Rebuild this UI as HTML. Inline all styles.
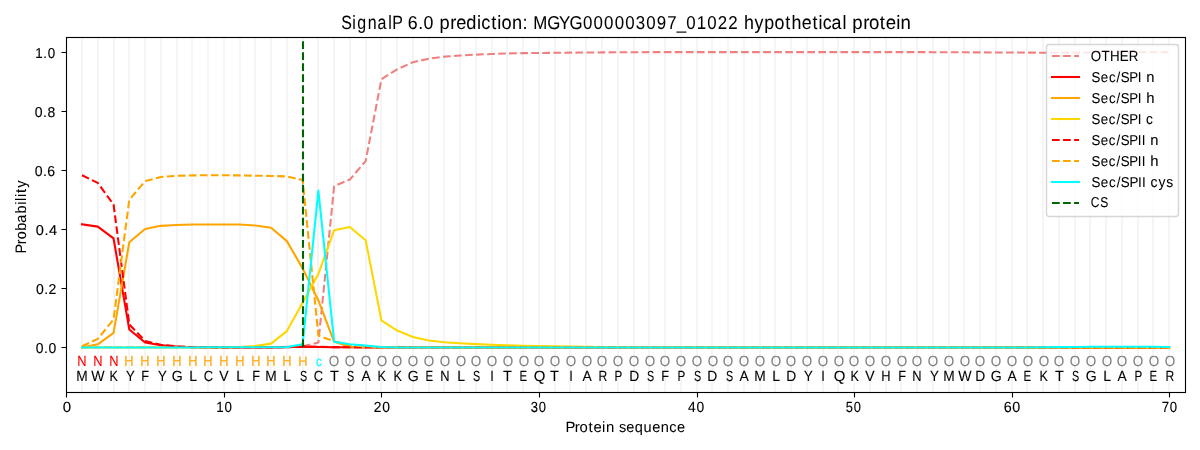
<!DOCTYPE html>
<html><head><meta charset="utf-8"><title>SignalP 6.0 prediction</title>
<style>
html,body{margin:0;padding:0;background:#fff}
body{width:1200px;height:450px;overflow:hidden}
svg{display:block;will-change:transform}
text{font-family:"Liberation Sans",sans-serif;font-kerning:none;text-rendering:geometricPrecision;white-space:pre}
</style></head><body>
<svg width="1200" height="450" viewBox="0 0 1200 450">
<rect x="0" y="0" width="1200" height="450" fill="#fff"/>
<path d="M82 37V392M98 37V392M114 37V392M129 37V392M145 37V392M161 37V392M177 37V392M192 37V392M208 37V392M224 37V392M240 37V392M255 37V392M271 37V392M287 37V392M303 37V392M318 37V392M334 37V392M350 37V392M366 37V392M381 37V392M397 37V392M413 37V392M429 37V392M444 37V392M460 37V392M476 37V392M492 37V392M507 37V392M523 37V392M539 37V392M555 37V392M570 37V392M586 37V392M602 37V392M618 37V392M634 37V392M649 37V392M665 37V392M681 37V392M697 37V392M712 37V392M728 37V392M744 37V392M760 37V392M775 37V392M791 37V392M807 37V392M823 37V392M838 37V392M854 37V392M870 37V392M886 37V392M901 37V392M917 37V392M933 37V392M949 37V392M964 37V392M980 37V392M996 37V392M1012 37V392M1027 37V392M1043 37V392M1059 37V392M1075 37V392M1090 37V392M1106 37V392M1122 37V392M1138 37V392M1153 37V392M1169 37V392" stroke="#f5f5f5" stroke-width="2.083" fill="none"/>
<clipPath id="c"><rect x="66.278" y="37.333" width="1118.722" height="354.389"/></clipPath>
<g clip-path="url(#c)" fill="none" stroke-width="2.083" stroke-linejoin="round">
<polyline points="82.034,347.276 97.791,347.276 113.548,347.276 129.304,347.276 145.061,347.276 160.818,347.276 176.574,347.276 192.331,347.276 208.088,347.276 223.844,347.276 239.601,347.276 255.358,347.276 271.114,347.128 286.871,346.833 302.628,346.242 318.384,342.551 334.141,186.177 349.897,179.502 365.654,161.074 381.411,79.269 397.167,69.317 412.924,62.17 428.681,58.744 444.437,56.648 460.194,55.584 475.951,54.639 491.707,53.99 507.464,53.428 523.221,53.163 538.977,52.986 554.734,52.779 570.491,52.631 586.247,52.513 602.004,52.395 617.761,52.306 633.517,52.218 649.274,52.159 665.031,52.129 680.787,52.1 696.544,52.1 712.3,52.1 728.057,52.1 743.814,52.1 759.57,52.1 775.327,52.1 791.084,52.1 806.84,52.1 822.597,52.1 838.354,52.1 854.11,52.1 869.867,52.1 885.624,52.1 901.38,52.1 917.137,52.1 932.894,52.188 948.65,52.247 964.407,52.306 980.164,52.395 995.92,52.454 1011.677,52.543 1027.433,52.631 1043.19,52.69 1058.947,52.69 1074.703,52.631 1090.46,52.543 1106.217,52.454 1121.973,52.395 1137.73,52.306 1153.487,52.218 1169.243,52.159" stroke="#f08080" stroke-dasharray="7.708 3.333"/>
<polyline points="82.034,224.273 97.791,226.636 113.548,238.449 129.304,329.497 145.061,342.551 160.818,345.209 176.574,346.538 192.331,347.187 208.088,347.335 223.844,347.424 239.601,347.424 255.358,347.424 271.114,347.424 286.871,347.276 302.628,346.833 318.384,346.981 334.141,347.187 349.897,347.276 365.654,347.424 381.411,347.424 397.167,347.424 412.924,347.424 428.681,347.424 444.437,347.424 460.194,347.424 475.951,347.424 491.707,347.424 507.464,347.424 523.221,347.424 538.977,347.424 554.734,347.424 570.491,347.424 586.247,347.424 602.004,347.424 617.761,347.424 633.517,347.424 649.274,347.424 665.031,347.424 680.787,347.424 696.544,347.424 712.3,347.424 728.057,347.424 743.814,347.424 759.57,347.424 775.327,347.424 791.084,347.424 806.84,347.424 822.597,347.424 838.354,347.424 854.11,347.424 869.867,347.424 885.624,347.424 901.38,347.424 917.137,347.424 932.894,347.424 948.65,347.424 964.407,347.424 980.164,347.424 995.92,347.424 1011.677,347.424 1027.433,347.424 1043.19,347.424 1058.947,347.424 1074.703,347.424 1090.46,347.424 1106.217,347.424 1121.973,347.424 1137.73,347.424 1153.487,347.424 1169.243,347.424" stroke="#ff0000" stroke-linecap="square"/>
<polyline points="82.034,347.424 97.791,344.323 113.548,332.835 129.304,242.288 145.061,228.999 160.818,225.839 176.574,224.953 192.331,224.569 208.088,224.421 223.844,224.421 239.601,224.569 255.358,225.455 271.114,227.699 286.871,241.107 302.628,268.395 318.384,300.467 334.141,341.872 349.897,346.833 365.654,347.128 381.411,347.276 397.167,347.424 412.924,347.424 428.681,347.424 444.437,347.424 460.194,347.424 475.951,347.424 491.707,347.424 507.464,347.424 523.221,347.424 538.977,347.424 554.734,347.424 570.491,347.424 586.247,347.424 602.004,347.424 617.761,347.424 633.517,347.424 649.274,347.424 665.031,347.424 680.787,347.424 696.544,347.424 712.3,347.424 728.057,347.424 743.814,347.424 759.57,347.424 775.327,347.424 791.084,347.424 806.84,347.424 822.597,347.424 838.354,347.424 854.11,347.424 869.867,347.424 885.624,347.424 901.38,347.424 917.137,347.424 932.894,347.424 948.65,347.424 964.407,347.424 980.164,347.424 995.92,347.424 1011.677,347.424 1027.433,347.424 1043.19,347.424 1058.947,347.424 1074.703,347.424 1090.46,347.424 1106.217,347.424 1121.973,347.424 1137.73,347.424 1153.487,347.424 1169.243,347.424" stroke="#ffa500" stroke-linecap="square"/>
<polyline points="82.034,347.424 97.791,347.424 113.548,347.424 129.304,347.424 145.061,347.424 160.818,347.424 176.574,347.424 192.331,347.424 208.088,347.424 223.844,347.424 239.601,347.128 255.358,345.947 271.114,343.643 286.871,331.063 302.628,302.83 318.384,273.888 334.141,230.18 349.897,226.931 365.654,240.221 381.411,320.313 397.167,330.59 412.924,336.969 428.681,340.572 444.437,342.226 460.194,343.2 475.951,344.116 491.707,344.825 507.464,345.356 523.221,345.77 538.977,346.095 554.734,346.39 570.491,346.658 586.247,346.856 602.004,347.003 617.761,347.112 633.517,347.193 649.274,347.253 665.031,347.297 680.787,347.33 696.544,347.354 712.3,347.372 728.057,347.385 743.814,347.395 759.57,347.403 775.327,347.408 791.084,347.412 806.84,347.415 822.597,347.417 838.354,347.419 854.11,347.42 869.867,347.421 885.624,347.422 901.38,347.422 917.137,347.423 932.894,347.423 948.65,347.423 964.407,347.423 980.164,347.423 995.92,347.423 1011.677,347.423 1027.433,347.423 1043.19,347.424 1058.947,347.424 1074.703,347.424 1090.46,347.424 1106.217,347.424 1121.973,347.424 1137.73,347.424 1153.487,347.424 1169.243,347.424" stroke="#ffd700" stroke-linecap="square"/>
<polyline points="82.034,175.25 97.791,182.928 113.548,204.487 129.304,324.388 145.061,340.926 160.818,344.766 176.574,346.39 192.331,347.128 208.088,347.305 223.844,347.424 239.601,347.424 255.358,347.424 271.114,347.424 286.871,347.187 302.628,346.331 318.384,346.833 334.141,347.128 349.897,347.187 365.654,347.246 381.411,347.305 397.167,347.365 412.924,347.424 428.681,347.424 444.437,347.424 460.194,347.424 475.951,347.424 491.707,347.424 507.464,347.424 523.221,347.424 538.977,347.424 554.734,347.424 570.491,347.424 586.247,347.424 602.004,347.424 617.761,347.424 633.517,347.424 649.274,347.424 665.031,347.424 680.787,347.424 696.544,347.424 712.3,347.424 728.057,347.424 743.814,347.424 759.57,347.424 775.327,347.424 791.084,347.424 806.84,347.424 822.597,347.424 838.354,347.424 854.11,347.424 869.867,347.424 885.624,347.424 901.38,347.424 917.137,347.424 932.894,347.424 948.65,347.424 964.407,347.424 980.164,347.424 995.92,347.424 1011.677,347.424 1027.433,347.424 1043.19,347.424 1058.947,347.424 1074.703,347.424 1090.46,347.424 1106.217,347.424 1121.973,347.424 1137.73,347.424 1153.487,347.424 1169.243,347.424" stroke="#ff0000" stroke-dasharray="7.708 3.333"/>
<polyline points="82.034,346.242 97.791,338.859 113.548,319.515 129.304,199.762 145.061,181.156 160.818,177.022 176.574,175.84 192.331,175.397 208.088,175.25 223.844,175.25 239.601,175.397 255.358,175.722 271.114,175.958 286.871,176.431 302.628,179.975 318.384,335.611 334.141,341.222 349.897,345.356 365.654,346.242 381.411,347.128 397.167,347.424 412.924,347.424 428.681,347.424 444.437,347.424 460.194,347.424 475.951,347.424 491.707,347.424 507.464,347.424 523.221,347.424 538.977,347.424 554.734,347.424 570.491,347.424 586.247,347.424 602.004,347.424 617.761,347.424 633.517,347.424 649.274,347.424 665.031,347.424 680.787,347.424 696.544,347.424 712.3,347.424 728.057,347.424 743.814,347.424 759.57,347.424 775.327,347.424 791.084,347.424 806.84,347.424 822.597,347.424 838.354,347.424 854.11,347.424 869.867,347.424 885.624,347.424 901.38,347.424 917.137,347.424 932.894,347.424 948.65,347.424 964.407,347.424 980.164,347.424 995.92,347.424 1011.677,347.424 1027.433,347.424 1043.19,347.424 1058.947,347.424 1074.703,347.424 1090.46,347.424 1106.217,347.424 1121.973,347.424 1137.73,347.424 1153.487,347.424 1169.243,347.424" stroke="#ffa500" stroke-dasharray="7.708 3.333"/>
<polyline points="82.034,347.424 97.791,347.424 113.548,347.424 129.304,347.424 145.061,347.424 160.818,347.424 176.574,347.424 192.331,347.424 208.088,347.276 223.844,347.187 239.601,347.187 255.358,347.187 271.114,347.187 286.871,347.128 302.628,344.323 318.384,190.607 334.141,341.665 349.897,344.323 365.654,345.652 381.411,347.01 397.167,347.424 412.924,347.424 428.681,347.424 444.437,347.424 460.194,347.424 475.951,347.424 491.707,347.424 507.464,347.424 523.221,347.424 538.977,347.424 554.734,347.424 570.491,347.424 586.247,347.424 602.004,347.424 617.761,347.424 633.517,347.424 649.274,347.424 665.031,347.424 680.787,347.424 696.544,347.424 712.3,347.424 728.057,347.424 743.814,347.424 759.57,347.424 775.327,347.424 791.084,347.424 806.84,347.424 822.597,347.424 838.354,347.424 854.11,347.424 869.867,347.424 885.624,347.424 901.38,347.424 917.137,347.424 932.894,347.424 948.65,347.424 964.407,347.424 980.164,347.424 995.92,347.424 1011.677,347.424 1027.433,347.424 1043.19,347.276 1058.947,347.128 1074.703,346.981 1090.46,346.833 1106.217,346.685 1121.973,346.685 1137.73,346.685 1153.487,346.833 1169.243,346.981" stroke="#00ffff" stroke-linecap="square"/>
<path d="M303 347V37" stroke="#006400" stroke-dasharray="7.708 3.333"/>
</g>
<path d="M66.5 392.5V397.5M224.5 392.5V397.5M381.5 392.5V397.5M539.5 392.5V397.5M697.5 392.5V397.5M854.5 392.5V397.5M1012.5 392.5V397.5M1169.5 392.5V397.5M66.5 347.5H61.5M66.5 288.5H61.5M66.5 229.5H61.5M66.5 170.5H61.5M66.5 111.5H61.5M66.5 52.5H61.5" stroke="#000" stroke-width="1.111" fill="none"/>
<rect x="66.5" y="37.5" width="1119" height="355" fill="none" stroke="#000" stroke-width="1.111"/>
<g stroke="#000" stroke-width="0.1"><text transform="translate(342.4 29) scale(0.958 1.159)" x="-1.112 10.41 15.396 26.537 36.669 47.781 52.009" font-size="16.667" stroke-width="0.04">SignalP</text><text transform="translate(408.65 29) scale(1.067 1.117)" x="-0.782 8.942 14.036" font-size="16.667" stroke-width="0.04">6.0</text><text transform="translate(440.63 29) scale(1.094 1.159)" x="-1.117 8.85 14.189 23.541 33.326 37.085 46.213 51.801 55.751 65.212 74.855" font-size="16.667" stroke-width="0.04">prediction:</text><text transform="translate(534.772 29) scale(1.013 1.117)" x="-1.484 12.363 23.818 34.224 47.621 58.032 68.444 78.855 89.266 99.698 110.088 120.448 130.879 140.244 149.504 159.835 170.326 180.522 190.933" font-size="16.667" stroke-width="0.04">MGYG000003097_01022</text><text transform="translate(745.153 29) scale(1.072 1.159)" x="-1.131 8.796 17.904 27.45 37.481 43.142 52.818 62.848 68.54 72.426 80.539 90.797" font-size="16.667" stroke-width="0.04">hypothetical</text><text transform="translate(853.589 29) scale(1.118 1.159)" x="-1.194 8.599 13.744 23.46 28.684 38.067 42.067" font-size="16.667" stroke-width="0.04">protein</text>
<text transform="translate(567.4 432) scale(1.073 1.07)" x="-1.806 6.843 11.358 19.712 24.323 32.37 35.938" font-size="13.889" stroke-width="0.03">Protein</text><text transform="translate(619.567 432) scale(1.05 1.07)" x="-0.667 6.347 14.457 22.85 31.117 39.33 47.317 54.769" font-size="13.889" stroke-width="0.03">sequence</text>
<text transform="translate(26 251.6) rotate(-90) scale(1.046 1.093)" x="-1.73 7.081 11.74 20.042 27.691 36.5 44.764 48.422 52.094 56.085 61.064" font-size="13.889" stroke-width="0.05">Probability</text>
<text transform="translate(63.4 412) scale(1.084 1.06)" x="-0.543" font-size="13.889" stroke-width="0.11">0</text>
<text transform="translate(217.4 412) scale(0.962 1.06)" x="-1.13 7.503" font-size="13.889" stroke-width="0.11">10</text>
<text transform="translate(374.4 412) scale(1 1.06)" x="-0.758 7.952" font-size="13.889" stroke-width="0.11">20</text>
<text transform="translate(531.4 412) scale(0.935 1.06)" x="-0.596 7.938" font-size="13.889" stroke-width="0.11">30</text>
<text transform="translate(688.4 412) scale(0.997 1.06)" x="-0.319 8.065" font-size="13.889" stroke-width="0.11">40</text>
<text transform="translate(846.4 412) scale(0.928 1.06)" x="-0.652 8.025" font-size="13.889" stroke-width="0.11">50</text>
<text transform="translate(1004.4 412) scale(1.033 1.06)" x="-0.649 7.592" font-size="13.889" stroke-width="0.11">60</text>
<text transform="translate(1162.4 412) scale(0.949 1.06)" x="-0.748 7.751" font-size="13.889" stroke-width="0.11">70</text>
<text transform="translate(36.4 353) scale(1.002 1.031)" x="-0.55 7.649 11.99" font-size="13.889" stroke-width="0.14">0.0</text>
<text transform="translate(36.4 294) scale(1.009 1.031)" x="-0.497 7.804 12.07" font-size="13.889" stroke-width="0.14">0.2</text>
<text transform="translate(36.4 235) scale(1.047 1.031)" x="-0.55 7.649 11.989" font-size="13.889" stroke-width="0.14">0.4</text>
<text transform="translate(35.4 176) scale(1.015 1.031)" x="-0.601 7.502 11.747" font-size="13.889" stroke-width="0.14">0.6</text>
<text transform="translate(35.4 117) scale(1.008 1.031)" x="-0.567 7.603 11.913" font-size="13.889" stroke-width="0.14">0.8</text>
<text transform="translate(36.4 58) scale(0.96 1.031)" x="-1.144 7.247 11.71" font-size="13.889" stroke-width="0.14">1.0</text>
<text transform="translate(78.4 366) scale(0.928 1.06)" x="-1.139" font-size="13.889" stroke-width="0.08" fill="#ff0000" stroke="#ff0000">N</text>
<text transform="translate(94.4 366) scale(0.928 1.06)" x="-1.139" font-size="13.889" stroke-width="0.08" fill="#ff0000" stroke="#ff0000">N</text>
<text transform="translate(110.4 366) scale(0.928 1.06)" x="-1.139" font-size="13.889" stroke-width="0.08" fill="#ff0000" stroke="#ff0000">N</text>
<text transform="translate(125.4 366) scale(0.928 1.06)" x="-1.139" font-size="13.889" stroke-width="0.08" fill="#ffa500" stroke="#ffa500">H</text>
<text transform="translate(141.4 366) scale(0.928 1.06)" x="-1.139" font-size="13.889" stroke-width="0.08" fill="#ffa500" stroke="#ffa500">H</text>
<text transform="translate(157.4 366) scale(0.928 1.06)" x="-1.139" font-size="13.889" stroke-width="0.08" fill="#ffa500" stroke="#ffa500">H</text>
<text transform="translate(173.4 366) scale(0.928 1.06)" x="-1.139" font-size="13.889" stroke-width="0.08" fill="#ffa500" stroke="#ffa500">H</text>
<text transform="translate(189.4 366) scale(0.928 1.06)" x="-1.139" font-size="13.889" stroke-width="0.08" fill="#ffa500" stroke="#ffa500">H</text>
<text transform="translate(204.4 366) scale(0.928 1.06)" x="-1.139" font-size="13.889" stroke-width="0.08" fill="#ffa500" stroke="#ffa500">H</text>
<text transform="translate(220.4 366) scale(0.928 1.06)" x="-1.139" font-size="13.889" stroke-width="0.08" fill="#ffa500" stroke="#ffa500">H</text>
<text transform="translate(236.4 366) scale(0.928 1.06)" x="-1.139" font-size="13.889" stroke-width="0.08" fill="#ffa500" stroke="#ffa500">H</text>
<text transform="translate(252.4 366) scale(0.928 1.06)" x="-1.139" font-size="13.889" stroke-width="0.08" fill="#ffa500" stroke="#ffa500">H</text>
<text transform="translate(267.4 366) scale(0.928 1.06)" x="-1.139" font-size="13.889" stroke-width="0.08" fill="#ffa500" stroke="#ffa500">H</text>
<text transform="translate(283.4 366) scale(0.928 1.06)" x="-1.139" font-size="13.889" stroke-width="0.08" fill="#ffa500" stroke="#ffa500">H</text>
<text transform="translate(299.4 366) scale(0.928 0.994)" x="-1.139" font-size="13.889" stroke-width="0.08" fill="#ffa500" stroke="#ffa500">H</text>
<text transform="translate(316.4 366) scale(0.868 0.985)" x="-0.59" font-size="13.889" stroke-width="0.08" fill="#00ffff" stroke="#00ffff">c</text>
<text transform="translate(329.4 366) scale(0.97 1.06)" x="-0.658" font-size="13.889" stroke-width="0.08" fill="#808080" stroke="#808080">O</text>
<text transform="translate(345.4 366) scale(0.97 1.06)" x="-0.658" font-size="13.889" stroke-width="0.08" fill="#808080" stroke="#808080">O</text>
<text transform="translate(361.4 366) scale(0.97 1.06)" x="-0.658" font-size="13.889" stroke-width="0.08" fill="#808080" stroke="#808080">O</text>
<text transform="translate(377.4 366) scale(0.97 1.06)" x="-0.658" font-size="13.889" stroke-width="0.08" fill="#808080" stroke="#808080">O</text>
<text transform="translate(392.4 366) scale(0.97 1.06)" x="-0.658" font-size="13.889" stroke-width="0.08" fill="#808080" stroke="#808080">O</text>
<text transform="translate(408.4 366) scale(0.97 1.06)" x="-0.658" font-size="13.889" stroke-width="0.08" fill="#808080" stroke="#808080">O</text>
<text transform="translate(424.4 366) scale(0.97 1.06)" x="-0.658" font-size="13.889" stroke-width="0.08" fill="#808080" stroke="#808080">O</text>
<text transform="translate(440.4 366) scale(0.97 1.06)" x="-0.658" font-size="13.889" stroke-width="0.08" fill="#808080" stroke="#808080">O</text>
<text transform="translate(456.4 366) scale(0.97 1.06)" x="-0.658" font-size="13.889" stroke-width="0.08" fill="#808080" stroke="#808080">O</text>
<text transform="translate(471.4 366) scale(0.97 1.06)" x="-0.658" font-size="13.889" stroke-width="0.08" fill="#808080" stroke="#808080">O</text>
<text transform="translate(487.4 366) scale(0.97 1.06)" x="-0.658" font-size="13.889" stroke-width="0.08" fill="#808080" stroke="#808080">O</text>
<text transform="translate(503.4 366) scale(0.97 1.06)" x="-0.658" font-size="13.889" stroke-width="0.08" fill="#808080" stroke="#808080">O</text>
<text transform="translate(519.4 366) scale(0.97 1.06)" x="-0.658" font-size="13.889" stroke-width="0.08" fill="#808080" stroke="#808080">O</text>
<text transform="translate(534.4 366) scale(0.97 1.06)" x="-0.658" font-size="13.889" stroke-width="0.08" fill="#808080" stroke="#808080">O</text>
<text transform="translate(550.4 366) scale(0.97 1.06)" x="-0.658" font-size="13.889" stroke-width="0.08" fill="#808080" stroke="#808080">O</text>
<text transform="translate(566.4 366) scale(0.97 1.06)" x="-0.658" font-size="13.889" stroke-width="0.08" fill="#808080" stroke="#808080">O</text>
<text transform="translate(582.4 366) scale(0.97 1.06)" x="-0.658" font-size="13.889" stroke-width="0.08" fill="#808080" stroke="#808080">O</text>
<text transform="translate(597.4 366) scale(0.97 1.06)" x="-0.658" font-size="13.889" stroke-width="0.08" fill="#808080" stroke="#808080">O</text>
<text transform="translate(613.4 366) scale(0.97 1.06)" x="-0.658" font-size="13.889" stroke-width="0.08" fill="#808080" stroke="#808080">O</text>
<text transform="translate(629.4 366) scale(0.97 1.06)" x="-0.658" font-size="13.889" stroke-width="0.08" fill="#808080" stroke="#808080">O</text>
<text transform="translate(645.4 366) scale(0.97 1.06)" x="-0.658" font-size="13.889" stroke-width="0.08" fill="#808080" stroke="#808080">O</text>
<text transform="translate(660.4 366) scale(0.97 1.06)" x="-0.658" font-size="13.889" stroke-width="0.08" fill="#808080" stroke="#808080">O</text>
<text transform="translate(676.4 366) scale(0.97 1.06)" x="-0.658" font-size="13.889" stroke-width="0.08" fill="#808080" stroke="#808080">O</text>
<text transform="translate(692.4 366) scale(0.97 1.06)" x="-0.658" font-size="13.889" stroke-width="0.08" fill="#808080" stroke="#808080">O</text>
<text transform="translate(708.4 366) scale(0.97 1.06)" x="-0.658" font-size="13.889" stroke-width="0.08" fill="#808080" stroke="#808080">O</text>
<text transform="translate(723.4 366) scale(0.97 1.06)" x="-0.658" font-size="13.889" stroke-width="0.08" fill="#808080" stroke="#808080">O</text>
<text transform="translate(739.4 366) scale(0.97 1.06)" x="-0.658" font-size="13.889" stroke-width="0.08" fill="#808080" stroke="#808080">O</text>
<text transform="translate(755.4 366) scale(0.97 1.06)" x="-0.658" font-size="13.889" stroke-width="0.08" fill="#808080" stroke="#808080">O</text>
<text transform="translate(771.4 366) scale(0.97 1.06)" x="-0.658" font-size="13.889" stroke-width="0.08" fill="#808080" stroke="#808080">O</text>
<text transform="translate(786.4 366) scale(0.97 1.06)" x="-0.658" font-size="13.889" stroke-width="0.08" fill="#808080" stroke="#808080">O</text>
<text transform="translate(802.4 366) scale(0.97 1.06)" x="-0.658" font-size="13.889" stroke-width="0.08" fill="#808080" stroke="#808080">O</text>
<text transform="translate(818.4 366) scale(0.97 1.06)" x="-0.658" font-size="13.889" stroke-width="0.08" fill="#808080" stroke="#808080">O</text>
<text transform="translate(834.4 366) scale(0.97 1.06)" x="-0.658" font-size="13.889" stroke-width="0.08" fill="#808080" stroke="#808080">O</text>
<text transform="translate(849.4 366) scale(0.97 1.06)" x="-0.658" font-size="13.889" stroke-width="0.08" fill="#808080" stroke="#808080">O</text>
<text transform="translate(865.4 366) scale(0.97 1.06)" x="-0.658" font-size="13.889" stroke-width="0.08" fill="#808080" stroke="#808080">O</text>
<text transform="translate(881.4 366) scale(0.97 1.06)" x="-0.658" font-size="13.889" stroke-width="0.08" fill="#808080" stroke="#808080">O</text>
<text transform="translate(897.4 366) scale(0.97 1.06)" x="-0.658" font-size="13.889" stroke-width="0.08" fill="#808080" stroke="#808080">O</text>
<text transform="translate(912.4 366) scale(0.97 1.06)" x="-0.658" font-size="13.889" stroke-width="0.08" fill="#808080" stroke="#808080">O</text>
<text transform="translate(928.4 366) scale(0.97 1.06)" x="-0.658" font-size="13.889" stroke-width="0.08" fill="#808080" stroke="#808080">O</text>
<text transform="translate(944.4 366) scale(0.97 1.06)" x="-0.658" font-size="13.889" stroke-width="0.08" fill="#808080" stroke="#808080">O</text>
<text transform="translate(960.4 366) scale(0.97 1.06)" x="-0.658" font-size="13.889" stroke-width="0.08" fill="#808080" stroke="#808080">O</text>
<text transform="translate(975.4 366) scale(0.97 1.06)" x="-0.658" font-size="13.889" stroke-width="0.08" fill="#808080" stroke="#808080">O</text>
<text transform="translate(991.4 366) scale(0.97 1.06)" x="-0.658" font-size="13.889" stroke-width="0.08" fill="#808080" stroke="#808080">O</text>
<text transform="translate(1007.4 366) scale(0.97 1.06)" x="-0.658" font-size="13.889" stroke-width="0.08" fill="#808080" stroke="#808080">O</text>
<text transform="translate(1023.4 366) scale(0.97 1.06)" x="-0.658" font-size="13.889" stroke-width="0.08" fill="#808080" stroke="#808080">O</text>
<text transform="translate(1039.4 366) scale(0.97 1.06)" x="-0.658" font-size="13.889" stroke-width="0.08" fill="#808080" stroke="#808080">O</text>
<text transform="translate(1054.4 366) scale(0.97 1.06)" x="-0.658" font-size="13.889" stroke-width="0.08" fill="#808080" stroke="#808080">O</text>
<text transform="translate(1070.4 366) scale(0.97 1.06)" x="-0.658" font-size="13.889" stroke-width="0.08" fill="#808080" stroke="#808080">O</text>
<text transform="translate(1086.4 366) scale(0.97 1.06)" x="-0.658" font-size="13.889" stroke-width="0.08" fill="#808080" stroke="#808080">O</text>
<text transform="translate(1102.4 366) scale(0.97 1.06)" x="-0.658" font-size="13.889" stroke-width="0.08" fill="#808080" stroke="#808080">O</text>
<text transform="translate(1117.4 366) scale(0.97 1.06)" x="-0.658" font-size="13.889" stroke-width="0.08" fill="#808080" stroke="#808080">O</text>
<text transform="translate(1133.4 366) scale(0.97 1.06)" x="-0.658" font-size="13.889" stroke-width="0.08" fill="#808080" stroke="#808080">O</text>
<text transform="translate(1149.4 366) scale(0.97 1.06)" x="-0.658" font-size="13.889" stroke-width="0.08" fill="#808080" stroke="#808080">O</text>
<text transform="translate(1165.4 366) scale(0.97 1.06)" x="-0.658" font-size="13.889" stroke-width="0.08" fill="#808080" stroke="#808080">O</text>
<text transform="translate(77.4 381) scale(0.99 1.06)" x="-1.139" font-size="13.889" stroke-width="0.085">M</text>
<text transform="translate(91.4 381) scale(1.015 1.06)" x="-0.061" font-size="13.889" stroke-width="0.085">W</text>
<text transform="translate(110.4 381) scale(0.904 1.06)" x="-1.139" font-size="13.889" stroke-width="0.085">K</text>
<text transform="translate(126.4 381) scale(0.948 1.06)" x="-0.305" font-size="13.889" stroke-width="0.085">Y</text>
<text transform="translate(142.4 381) scale(0.913 1.06)" x="-1.139" font-size="13.889" stroke-width="0.085">F</text>
<text transform="translate(158.4 381) scale(0.948 1.06)" x="-0.305" font-size="13.889" stroke-width="0.085">Y</text>
<text transform="translate(172.4 381) scale(1.015 1.06)" x="-0.699" font-size="13.889" stroke-width="0.085">G</text>
<text transform="translate(190.4 381) scale(1.012 1.06)" x="-1.139" font-size="13.889" stroke-width="0.085">L</text>
<text transform="translate(204.4 381) scale(0.932 1.06)" x="-0.705" font-size="13.889" stroke-width="0.085">C</text>
<text transform="translate(219.4 381) scale(1.006 1.06)" x="-0.061" font-size="13.889" stroke-width="0.085">V</text>
<text transform="translate(237.4 381) scale(1.012 1.06)" x="-1.139" font-size="13.889" stroke-width="0.085">L</text>
<text transform="translate(253.4 381) scale(0.913 1.06)" x="-1.139" font-size="13.889" stroke-width="0.085">F</text>
<text transform="translate(266.4 381) scale(0.99 1.06)" x="-1.139" font-size="13.889" stroke-width="0.085">M</text>
<text transform="translate(284.4 381) scale(1.012 1.06)" x="-1.139" font-size="13.889" stroke-width="0.085">L</text>
<text transform="translate(300.4 381) scale(0.775 1.06)" x="-0.631" font-size="13.889" stroke-width="0.085">S</text>
<text transform="translate(314.4 381) scale(0.932 1.06)" x="-0.705" font-size="13.889" stroke-width="0.085">C</text>
<text transform="translate(330.4 381) scale(1.044 1.06)" x="-0.312" font-size="13.889" stroke-width="0.085">T</text>
<text transform="translate(347.4 381) scale(0.775 1.06)" x="-0.631" font-size="13.889" stroke-width="0.085">S</text>
<text transform="translate(361.4 381) scale(0.999 1.06)" x="-0.027" font-size="13.889" stroke-width="0.085">A</text>
<text transform="translate(378.4 381) scale(0.904 1.06)" x="-1.139" font-size="13.889" stroke-width="0.085">K</text>
<text transform="translate(394.4 381) scale(0.904 1.06)" x="-1.139" font-size="13.889" stroke-width="0.085">K</text>
<text transform="translate(408.4 381) scale(1.015 1.06)" x="-0.699" font-size="13.889" stroke-width="0.085">G</text>
<text transform="translate(426.4 381) scale(0.824 1.06)" x="-1.139" font-size="13.889" stroke-width="0.085">E</text>
<text transform="translate(441.4 381) scale(0.928 1.06)" x="-1.139" font-size="13.889" stroke-width="0.085">N</text>
<text transform="translate(458.4 381) scale(1.012 1.06)" x="-1.139" font-size="13.889" stroke-width="0.085">L</text>
<text transform="translate(473.4 381) scale(0.775 1.06)" x="-0.631" font-size="13.889" stroke-width="0.085">S</text>
<text transform="translate(491.4 381) scale(0.926 1.06)" x="-1.282" font-size="13.889" stroke-width="0.085">I</text>
<text transform="translate(503.4 381) scale(1.044 1.06)" x="-0.312" font-size="13.889" stroke-width="0.085">T</text>
<text transform="translate(520.4 381) scale(0.824 1.06)" x="-1.139" font-size="13.889" stroke-width="0.085">E</text>
<text transform="translate(534.4 381) scale(1.076 1.06)" x="-0.658" font-size="13.889" stroke-width="0.085">Q</text>
<text transform="translate(550.4 381) scale(1.044 1.06)" x="-0.312" font-size="13.889" stroke-width="0.085">T</text>
<text transform="translate(570.4 381) scale(0.926 1.06)" x="-1.282" font-size="13.889" stroke-width="0.085">I</text>
<text transform="translate(582.4 381) scale(0.999 1.06)" x="-0.027" font-size="13.889" stroke-width="0.085">A</text>
<text transform="translate(599.4 381) scale(0.873 1.06)" x="-1.139" font-size="13.889" stroke-width="0.085">R</text>
<text transform="translate(615.4 381) scale(0.839 1.06)" x="-1.139" font-size="13.889" stroke-width="0.085">P</text>
<text transform="translate(630.4 381) scale(0.997 1.06)" x="-1.139" font-size="13.889" stroke-width="0.085">D</text>
<text transform="translate(647.4 381) scale(0.775 1.06)" x="-0.631" font-size="13.889" stroke-width="0.085">S</text>
<text transform="translate(662.4 381) scale(0.913 1.06)" x="-1.139" font-size="13.889" stroke-width="0.085">F</text>
<text transform="translate(678.4 381) scale(0.839 1.06)" x="-1.139" font-size="13.889" stroke-width="0.085">P</text>
<text transform="translate(694.4 381) scale(0.775 1.06)" x="-0.631" font-size="13.889" stroke-width="0.085">S</text>
<text transform="translate(708.4 381) scale(0.997 1.06)" x="-1.139" font-size="13.889" stroke-width="0.085">D</text>
<text transform="translate(726.4 381) scale(0.775 1.06)" x="-0.631" font-size="13.889" stroke-width="0.085">S</text>
<text transform="translate(739.4 381) scale(0.999 1.06)" x="-0.027" font-size="13.889" stroke-width="0.085">A</text>
<text transform="translate(755.4 381) scale(0.99 1.06)" x="-1.139" font-size="13.889" stroke-width="0.085">M</text>
<text transform="translate(773.4 381) scale(1.012 1.06)" x="-1.139" font-size="13.889" stroke-width="0.085">L</text>
<text transform="translate(787.4 381) scale(0.997 1.06)" x="-1.139" font-size="13.889" stroke-width="0.085">D</text>
<text transform="translate(804.4 381) scale(0.948 1.06)" x="-0.305" font-size="13.889" stroke-width="0.085">Y</text>
<text transform="translate(822.4 381) scale(0.926 1.06)" x="-1.282" font-size="13.889" stroke-width="0.085">I</text>
<text transform="translate(834.4 381) scale(1.076 1.06)" x="-0.658" font-size="13.889" stroke-width="0.085">Q</text>
<text transform="translate(851.4 381) scale(0.904 1.06)" x="-1.139" font-size="13.889" stroke-width="0.085">K</text>
<text transform="translate(865.4 381) scale(1.006 1.06)" x="-0.061" font-size="13.889" stroke-width="0.085">V</text>
<text transform="translate(882.4 381) scale(0.928 1.06)" x="-1.139" font-size="13.889" stroke-width="0.085">H</text>
<text transform="translate(899.4 381) scale(0.913 1.06)" x="-1.139" font-size="13.889" stroke-width="0.085">F</text>
<text transform="translate(913.4 381) scale(0.928 1.06)" x="-1.139" font-size="13.889" stroke-width="0.085">N</text>
<text transform="translate(930.4 381) scale(0.948 1.06)" x="-0.305" font-size="13.889" stroke-width="0.085">Y</text>
<text transform="translate(944.4 381) scale(0.99 1.06)" x="-1.139" font-size="13.889" stroke-width="0.085">M</text>
<text transform="translate(958.4 381) scale(1.015 1.06)" x="-0.061" font-size="13.889" stroke-width="0.085">W</text>
<text transform="translate(976.4 381) scale(0.997 1.06)" x="-1.139" font-size="13.889" stroke-width="0.085">D</text>
<text transform="translate(991.4 381) scale(1.015 1.06)" x="-0.699" font-size="13.889" stroke-width="0.085">G</text>
<text transform="translate(1007.4 381) scale(0.999 1.06)" x="-0.027" font-size="13.889" stroke-width="0.085">A</text>
<text transform="translate(1024.4 381) scale(0.824 1.06)" x="-1.139" font-size="13.889" stroke-width="0.085">E</text>
<text transform="translate(1040.4 381) scale(0.904 1.06)" x="-1.139" font-size="13.889" stroke-width="0.085">K</text>
<text transform="translate(1055.4 381) scale(1.044 1.06)" x="-0.312" font-size="13.889" stroke-width="0.085">T</text>
<text transform="translate(1072.4 381) scale(0.775 1.06)" x="-0.631" font-size="13.889" stroke-width="0.085">S</text>
<text transform="translate(1086.4 381) scale(1.015 1.06)" x="-0.699" font-size="13.889" stroke-width="0.085">G</text>
<text transform="translate(1104.4 381) scale(1.012 1.06)" x="-1.139" font-size="13.889" stroke-width="0.085">L</text>
<text transform="translate(1117.4 381) scale(0.999 1.06)" x="-0.027" font-size="13.889" stroke-width="0.085">A</text>
<text transform="translate(1135.4 381) scale(0.839 1.06)" x="-1.139" font-size="13.889" stroke-width="0.085">P</text>
<text transform="translate(1150.4 381) scale(0.824 1.06)" x="-1.139" font-size="13.889" stroke-width="0.085">E</text>
<text transform="translate(1166.4 381) scale(0.873 1.06)" x="-1.139" font-size="13.889" stroke-width="0.085">R</text></g>
<rect x="1046.5" y="44.5" width="132" height="172" rx="2.778" ry="2.778" fill="#fff" fill-opacity="0.8" stroke="#ccc" stroke-opacity="0.8" stroke-width="1.389"/>
<g fill="none" stroke-width="2.083">
<path d="M1052 56H1079" stroke="#f08080" stroke-dasharray="7.708 3.333"/>
<path d="M1052 77H1079" stroke="#ff0000" stroke-linecap="square"/>
<path d="M1052 98H1079" stroke="#ffa500" stroke-linecap="square"/>
<path d="M1052 119H1079" stroke="#ffd700" stroke-linecap="square"/>
<path d="M1052 140H1079" stroke="#ff0000" stroke-dasharray="7.708 3.333"/>
<path d="M1052 161H1079" stroke="#ffa500" stroke-dasharray="7.708 3.333"/>
<path d="M1052 182H1079" stroke="#00ffff" stroke-linecap="square"/>
<path d="M1052 203H1079" stroke="#006400" stroke-dasharray="7.708 3.333"/>
</g>
<g stroke="#000" stroke-width="0.1"><text transform="translate(1091.4 61) scale(0.962 1.06)" x="-0.618 10.443 19.316 29.475 38.762" font-size="13.889" stroke-width="0.06">OTHER</text>
<text transform="translate(1092.4 82) scale(0.958 1.031)" x="-0.962 8.69 17.216 25.256 29.573 38.594 47.459" font-size="13.889" stroke-width="0.06">Sec/SPI</text><text transform="translate(1147.33 82) scale(1.063 1.07)" x="-0.922" font-size="13.889" stroke-width="0.06">n</text>
<text transform="translate(1092.4 103) scale(0.958 1.031)" x="-0.962 8.69 17.216 25.256 29.573 38.594 47.459" font-size="13.889" stroke-width="0.06">Sec/SPI</text><text transform="translate(1147.33 103) scale(1.07 1.077)" x="-0.963" font-size="13.889" stroke-width="0.06">h</text>
<text transform="translate(1092.4 124) scale(0.955 1.031)" x="-0.962 8.69 17.216 25.256 29.573 38.594 47.459" font-size="13.889" stroke-width="0.06">Sec/SPI</text><text transform="translate(1146.693 124) scale(0.986 1.07)" x="-0.59" font-size="13.889" stroke-width="0.06">c</text>
<text transform="translate(1092.4 145) scale(0.96 1.031)" x="-0.972 8.657 17.16 25.183 29.481 38.477 47.326 51.529" font-size="13.889" stroke-width="0.06">Sec/SPII</text><text transform="translate(1151.333 145) scale(1.062 1.07)" x="-0.922" font-size="13.889" stroke-width="0.06">n</text>
<text transform="translate(1092.4 166) scale(0.96 1.031)" x="-0.972 8.657 17.16 25.183 29.481 38.477 47.326 51.529" font-size="13.889" stroke-width="0.06">Sec/SPII</text><text transform="translate(1151.333 166) scale(1.07 1.077)" x="-0.963" font-size="13.889" stroke-width="0.06">h</text>
<text transform="translate(1092.4 187) scale(0.965 1.031)" x="-0.972 8.657 17.16 25.183 29.481 38.477 47.326 51.529" font-size="13.889" stroke-width="0.06">Sec/SPII</text><text transform="translate(1151.16 187) scale(1.005 1.07)" x="-0.623 7.345 15.059" font-size="13.889" stroke-width="0.06">cys</text>
<text transform="translate(1091.4 207) scale(0.87 1.031)" x="-0.621 10.082" font-size="13.889" stroke-width="0.06">CS</text></g>
</svg>
</body></html>
